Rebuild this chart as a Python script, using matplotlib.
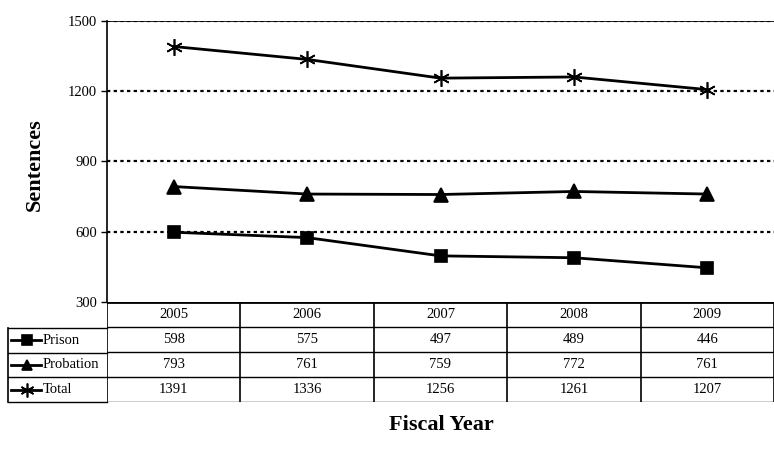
import matplotlib.pyplot as plt
import numpy as np

plt.rcParams['font.family'] = ['Liberation Serif', 'DejaVu Serif']

years = ['2005', '2006', '2007', '2008', '2009']
prison = [598, 575, 497, 489, 446]
probation = [793, 761, 759, 772, 761]
total = [1391, 1336, 1256, 1261, 1207]

series = [('Prison', prison, 's', 9, 6.5),
          ('Probation', probation, '^', 10, 7.5),
          ('Total', total, (6, 2, 0), 12, 10)]

W, H = 774, 455
fig = plt.figure(figsize=(W / 100, H / 100), dpi=100)

def px_axes(x0, y0, x1, y1):
    # axes from pixel box (top-left origin)
    return fig.add_axes([x0 / W, 1 - y1 / H, (x1 - x0) / W, (y1 - y0) / H])

# MAIN PLOT ######
ax = px_axes(107, 21, 774, 302)
x = np.arange(len(years)) + 0.5
for name, vals, mk, ms, lms in series:
    ax.plot(x, vals, color='black', lw=2, marker=mk, ms=ms,
            mec='black', mfc='black', mew=1.2, zorder=3)
ax.set_xlim(0, len(years))
ax.set_ylim(300, 1500)
ax.set_yticks([300, 600, 900, 1200, 1500])
ax.set_xticks([])
for v in [600, 900, 1200, 1500]:
    ax.axhline(v, color='black', lw=1.6, linestyle=(0, (1.5, 1.5)), zorder=1)
ax.spines['right'].set_visible(False)
ax.spines['bottom'].set_visible(False)
ax.spines['top'].set_linewidth(0.6)
ax.spines['left'].set_linewidth(1.2)
ax.tick_params(axis='y', direction='out', length=4, width=1, labelsize=10.5, pad=3)
fig.text(35 / W, 1 - 165 / H, 'Sentences', rotation=90, ha='center', va='center',
         fontsize=16, fontweight='bold')

# TABLE ######
tab = px_axes(107, 302, 774, 402)
tab.set_xlim(0, len(years))
tab.set_ylim(4, 0)
tab.axis('off')
tab.axhline(0, color='black', lw=2)
for r in range(1, 5):
    tab.axhline(r, color='black', lw=1)
for c in range(len(years) + 1):
    tab.axvline(c, color='black', lw=1.2)
rows = [years, prison, probation, total]
for r, row in enumerate(rows):
    for c, v in enumerate(row):
        tab.text(c + 0.5, r + 0.5, str(v), ha='center', va='center', fontsize=10.5)

# LEGEND COLUMN ######
leg = px_axes(8, 328, 107, 402)
leg.set_xlim(0, 99)
leg.set_ylim(3, 0)
leg.axis('off')
for r in range(4):
    leg.plot([0, 99], [r, r], color='black', lw=1, clip_on=False)
leg.plot([0, 0], [0, 3], color='black', lw=1.2, clip_on=False)
for r, (name, vals, mk, ms, lms) in enumerate(series):
    leg.plot([3, 33], [r + 0.5, r + 0.5], color='black', lw=2)
    leg.plot([19], [r + 0.5], marker=mk, ms=lms, color='black', mew=1.2)
    leg.text(35, r + 0.5, name, ha='left', va='center', fontsize=10.5)

fig.text(441 / W, 1 - 425 / H, 'Fiscal Year', ha='center', va='center',
         fontsize=16, fontweight='bold')

plt.savefig('out.png', dpi=100)
